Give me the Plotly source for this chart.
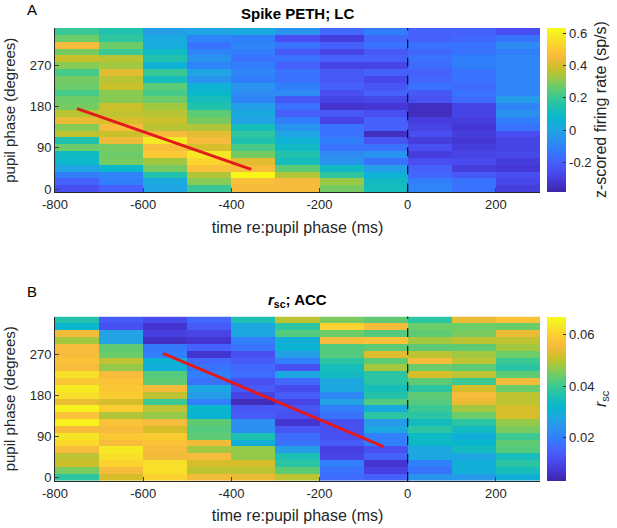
import numpy as np
import plotly.graph_objects as go
from plotly.subplots import make_subplots

# time bin centres (ms) and pupil phase bin centres (degrees)
time_bins = [-750, -650, -550, -450, -350, -250, -150, -50, 50, 150, 250]
phase_bins = list(range(0, 360, 15))

# panel A: z-scored firing rate, one list per time bin, rows from 345 deg down to 0 deg
lc_cols = [
    [0.20, 0.27, 0.45, 0.28, 0.38, 0.30, 0.22, 0.28, 0.27, 0.22, 0.27, 0.28, 0.36, 0.43, 0.30, 0.37, 0.15, 0.27, 0.10, 0.08, 0.00, -0.12, -0.20, -0.25],
    [0.15, 0.18, 0.27, 0.20, 0.36, 0.33, 0.42, 0.36, 0.38, 0.30, 0.30, 0.38, 0.37, 0.40, 0.46, 0.38, 0.44, 0.28, 0.27, 0.28, 0.08, -0.10, -0.12, -0.20],
    [-0.02, 0.02, 0.03, 0.10, 0.15, 0.05, 0.20, 0.12, 0.25, 0.22, 0.27, 0.33, 0.36, 0.38, 0.36, 0.45, 0.58, 0.47, 0.50, 0.33, 0.28, 0.15, 0.02, 0.00],
    [0.00, -0.10, -0.15, -0.10, -0.05, -0.10, 0.00, -0.05, 0.05, 0.08, 0.12, 0.15, 0.25, 0.28, 0.35, 0.42, 0.45, 0.40, 0.58, 0.53, 0.48, 0.35, 0.30, 0.20],
    [0.02, -0.12, -0.10, -0.12, -0.15, -0.12, -0.10, -0.12, -0.05, -0.08, -0.10, -0.02, 0.02, 0.00, 0.12, 0.18, 0.15, 0.22, 0.28, 0.42, 0.46, 0.62, 0.47, 0.45],
    [-0.05, -0.25, -0.15, -0.22, -0.15, -0.20, -0.15, -0.15, -0.12, -0.08, -0.22, -0.15, -0.20, -0.12, -0.05, 0.00, 0.05, 0.10, 0.15, 0.12, 0.25, 0.35, 0.45, 0.45],
    [-0.18, -0.30, -0.20, -0.28, -0.20, -0.28, -0.22, -0.22, -0.20, -0.25, -0.28, -0.33, -0.22, -0.28, -0.15, -0.15, -0.12, -0.15, -0.08, -0.05, 0.10, 0.18, 0.32, 0.28],
    [-0.12, -0.18, -0.15, -0.22, -0.20, -0.28, -0.20, -0.27, -0.23, -0.20, -0.27, -0.32, -0.25, -0.20, -0.20, -0.35, -0.23, -0.15, -0.05, -0.15, -0.02, 0.05, 0.10, 0.12],
    [-0.20, -0.20, -0.15, -0.18, -0.15, -0.17, -0.20, -0.18, -0.15, -0.22, -0.24, -0.35, -0.35, -0.30, -0.28, -0.25, -0.30, -0.25, -0.30, -0.25, -0.20, -0.18, -0.12, -0.10],
    [-0.20, -0.18, -0.15, -0.15, -0.12, -0.12, -0.15, -0.15, -0.17, -0.15, -0.17, -0.28, -0.28, -0.30, -0.32, -0.30, -0.32, -0.30, -0.28, -0.26, -0.30, -0.22, -0.15, -0.15],
    [-0.25, -0.15, -0.08, -0.12, -0.10, -0.10, -0.10, -0.10, -0.10, -0.10, -0.03, -0.10, -0.06, -0.12, -0.15, -0.25, -0.28, -0.28, -0.27, -0.30, -0.32, -0.25, -0.27, -0.30],
]

# panel B: r_sc, same layout
acc_cols = [
    [0.037, 0.032, 0.055, 0.048, 0.056, 0.056, 0.057, 0.056, 0.062, 0.058, 0.064, 0.062, 0.054, 0.065, 0.057, 0.065, 0.056, 0.063, 0.061, 0.056, 0.050, 0.051, 0.045, 0.038],
    [0.014, 0.012, 0.027, 0.027, 0.043, 0.044, 0.050, 0.047, 0.056, 0.057, 0.058, 0.059, 0.052, 0.059, 0.049, 0.057, 0.056, 0.058, 0.056, 0.064, 0.062, 0.060, 0.056, 0.052],
    [0.011, 0.007, 0.009, 0.006, 0.019, 0.020, 0.031, 0.030, 0.042, 0.043, 0.055, 0.050, 0.040, 0.050, 0.047, 0.056, 0.052, 0.059, 0.057, 0.056, 0.055, 0.062, 0.062, 0.060],
    [0.016, 0.014, 0.010, 0.007, 0.015, 0.007, 0.016, 0.018, 0.020, 0.018, 0.028, 0.026, 0.020, 0.032, 0.031, 0.043, 0.042, 0.043, 0.055, 0.048, 0.056, 0.052, 0.050, 0.055],
    [0.036, 0.028, 0.028, 0.020, 0.018, 0.012, 0.014, 0.016, 0.017, 0.012, 0.014, 0.010, 0.005, 0.013, 0.014, 0.023, 0.023, 0.036, 0.030, 0.047, 0.047, 0.052, 0.050, 0.054],
    [0.050, 0.038, 0.042, 0.030, 0.031, 0.026, 0.020, 0.012, 0.028, 0.016, 0.011, 0.014, 0.010, 0.013, 0.012, 0.007, 0.013, 0.017, 0.018, 0.026, 0.036, 0.038, 0.043, 0.050],
    [0.045, 0.060, 0.044, 0.056, 0.042, 0.042, 0.038, 0.035, 0.034, 0.028, 0.028, 0.022, 0.027, 0.020, 0.018, 0.012, 0.012, 0.012, 0.014, 0.009, 0.010, 0.020, 0.018, 0.017],
    [0.043, 0.056, 0.042, 0.057, 0.043, 0.053, 0.043, 0.048, 0.038, 0.038, 0.035, 0.037, 0.042, 0.029, 0.038, 0.025, 0.028, 0.020, 0.020, 0.012, 0.015, 0.007, 0.009, 0.015],
    [0.038, 0.044, 0.043, 0.048, 0.043, 0.050, 0.056, 0.044, 0.052, 0.043, 0.038, 0.043, 0.042, 0.040, 0.038, 0.034, 0.038, 0.033, 0.033, 0.028, 0.028, 0.020, 0.018, 0.024],
    [0.054, 0.044, 0.045, 0.050, 0.043, 0.048, 0.050, 0.043, 0.050, 0.040, 0.052, 0.056, 0.054, 0.048, 0.044, 0.038, 0.034, 0.030, 0.032, 0.034, 0.028, 0.030, 0.030, 0.025],
    [0.057, 0.044, 0.054, 0.050, 0.048, 0.044, 0.040, 0.038, 0.043, 0.055, 0.044, 0.050, 0.050, 0.052, 0.052, 0.047, 0.045, 0.040, 0.043, 0.042, 0.035, 0.038, 0.035, 0.030],
]

# red fitted lines (time ms, phase deg)
lc_fit_x = [-750, -355]
lc_fit_y = [176, 43]
acc_fit_x = [-555, -55]
acc_fit_y = [272, 68]

x_ticks = [-800, -600, -400, -200, 0, 200]
y_ticks = [0, 90, 180, 270]
lc_cb_ticks = [0.6, 0.4, 0.2, 0, -0.2]
acc_cb_ticks = [0.06, 0.04, 0.02]

# MATLAB parula
parula = [
    [0 / 63, "#3e26a8"], [4 / 63, "#4537d5"], [8 / 63, "#484df0"], [12 / 63, "#4563fd"],
    [16 / 63, "#327cfc"], [20 / 63, "#2b91ef"], [24 / 63, "#20a5e3"], [28 / 63, "#08b5d0"],
    [32 / 63, "#19bfb6"], [36 / 63, "#37c897"], [40 / 63, "#64cc6f"], [44 / 63, "#9dc943"],
    [48 / 63, "#d1bf27"], [52 / 63, "#f8ba3d"], [56 / 63, "#fccf30"], [60 / 63, "#f5e924"],
    [1.0, "#f9fb15"],
]

lc_z = np.array(lc_cols).T[::-1]
acc_z = np.array(acc_cols).T[::-1]

fig = make_subplots(rows=2, cols=1, vertical_spacing=0.274)

font = "Liberation Sans, Arial, sans-serif"


def colorbar(y, ticks, fmt):
    return dict(
        x=1.0144, xanchor="left", xpad=0, y=y, yanchor="middle", ypad=0,
        len=0.362, lenmode="fraction", thickness=19, outlinewidth=0,
        tickvals=ticks, ticktext=[fmt(t) for t in ticks],
        ticks="inside", ticklen=3, tickcolor="#333", tickfont=dict(size=13, color="#262626", family=font),
    )


fig.add_trace(go.Heatmap(
    x=time_bins, y=phase_bins, z=lc_z, colorscale=parula, zmin=-0.383, zmax=0.631,
    colorbar=colorbar(0.819, lc_cb_ticks, lambda t: f"{t:g}"),
), row=1, col=1)
fig.add_trace(go.Heatmap(
    x=time_bins, y=phase_bins, z=acc_z, colorscale=parula, zmin=0.0034, zmax=0.0666,
    colorbar=colorbar(0.181, acc_cb_ticks, lambda t: f"{t:.2f}"),
), row=2, col=1)

for r, fx, fy in [(1, lc_fit_x, lc_fit_y), (2, acc_fit_x, acc_fit_y)]:
    fig.add_trace(go.Scatter(x=fx, y=fy, mode="lines", line=dict(color="#e3191c", width=3), showlegend=False), row=r, col=1)
    fig.add_vline(x=0, line=dict(color="black", width=1, dash="dash"), row=r, col=1)

for r in (1, 2):
    fig.update_xaxes(
        range=[-800, 300], tickvals=x_ticks, ticktext=[str(t) for t in x_ticks],
        ticks="inside", ticklen=4, showline=True, linecolor="#262626", linewidth=1, showgrid=False, zeroline=False,
        title=dict(text="time re:pupil phase (ms)", standoff=10, font=dict(size=16, color="#262626")),
        tickfont=dict(size=13, color="#262626"), automargin=False, row=r, col=1,
    )
    fig.update_yaxes(
        range=[-7.5, 352.5], tickvals=y_ticks, ticks="inside", ticklen=4,
        showline=True, linecolor="#262626", linewidth=1, showgrid=False, zeroline=False,
        title=dict(text="pupil phase (degrees)", standoff=10, font=dict(size=15, color="#262626")),
        tickfont=dict(size=13, color="#262626"), automargin=False, row=r, col=1,
    )

fig.update_layout(
    width=617, height=528,
    margin=dict(l=55, r=77, t=28, b=47, autoexpand=False),
    plot_bgcolor="white", paper_bgcolor="white",
    font=dict(family=font, color="#262626"),
    showlegend=False,
    annotations=[
        dict(text="<b>Spike PETH; LC</b>", x=0.5, y=1.0, xref="paper", yref="paper", xanchor="center",
             yanchor="bottom", yshift=4, showarrow=False, font=dict(size=15, color="black")),
        dict(text="<b><i>r</i><sub>sc</sub>; ACC</b>", x=0.5, y=0.364, xref="paper", yref="paper",
             xanchor="center", yanchor="bottom", yshift=4, showarrow=False, font=dict(size=15, color="black")),
        dict(text="A", x=-0.047, y=1.0, xref="paper", yref="paper", xanchor="center", yanchor="bottom", yshift=8,
             showarrow=False, font=dict(size=15, color="black")),
        dict(text="B", x=-0.047, y=0.364, xref="paper", yref="paper", xanchor="center", yanchor="bottom", yshift=14,
             showarrow=False, font=dict(size=15, color="black")),
        dict(text="z-scored firing rate (sp/s)", x=1.126, y=0.819, xref="paper", yref="paper", textangle=-90,
             xanchor="center", yanchor="middle", showarrow=False, font=dict(size=16, color="#262626")),
        dict(text="<i>r</i><sub>sc</sub>", x=1.126, y=0.181, xref="paper", yref="paper", textangle=-90,
             xanchor="center", yanchor="middle", showarrow=False, font=dict(size=16, color="#262626")),
    ],
)

fig.write_html("out.html", config={"displayModeBar": False}, post_script="document.body.style.margin='0px';")
